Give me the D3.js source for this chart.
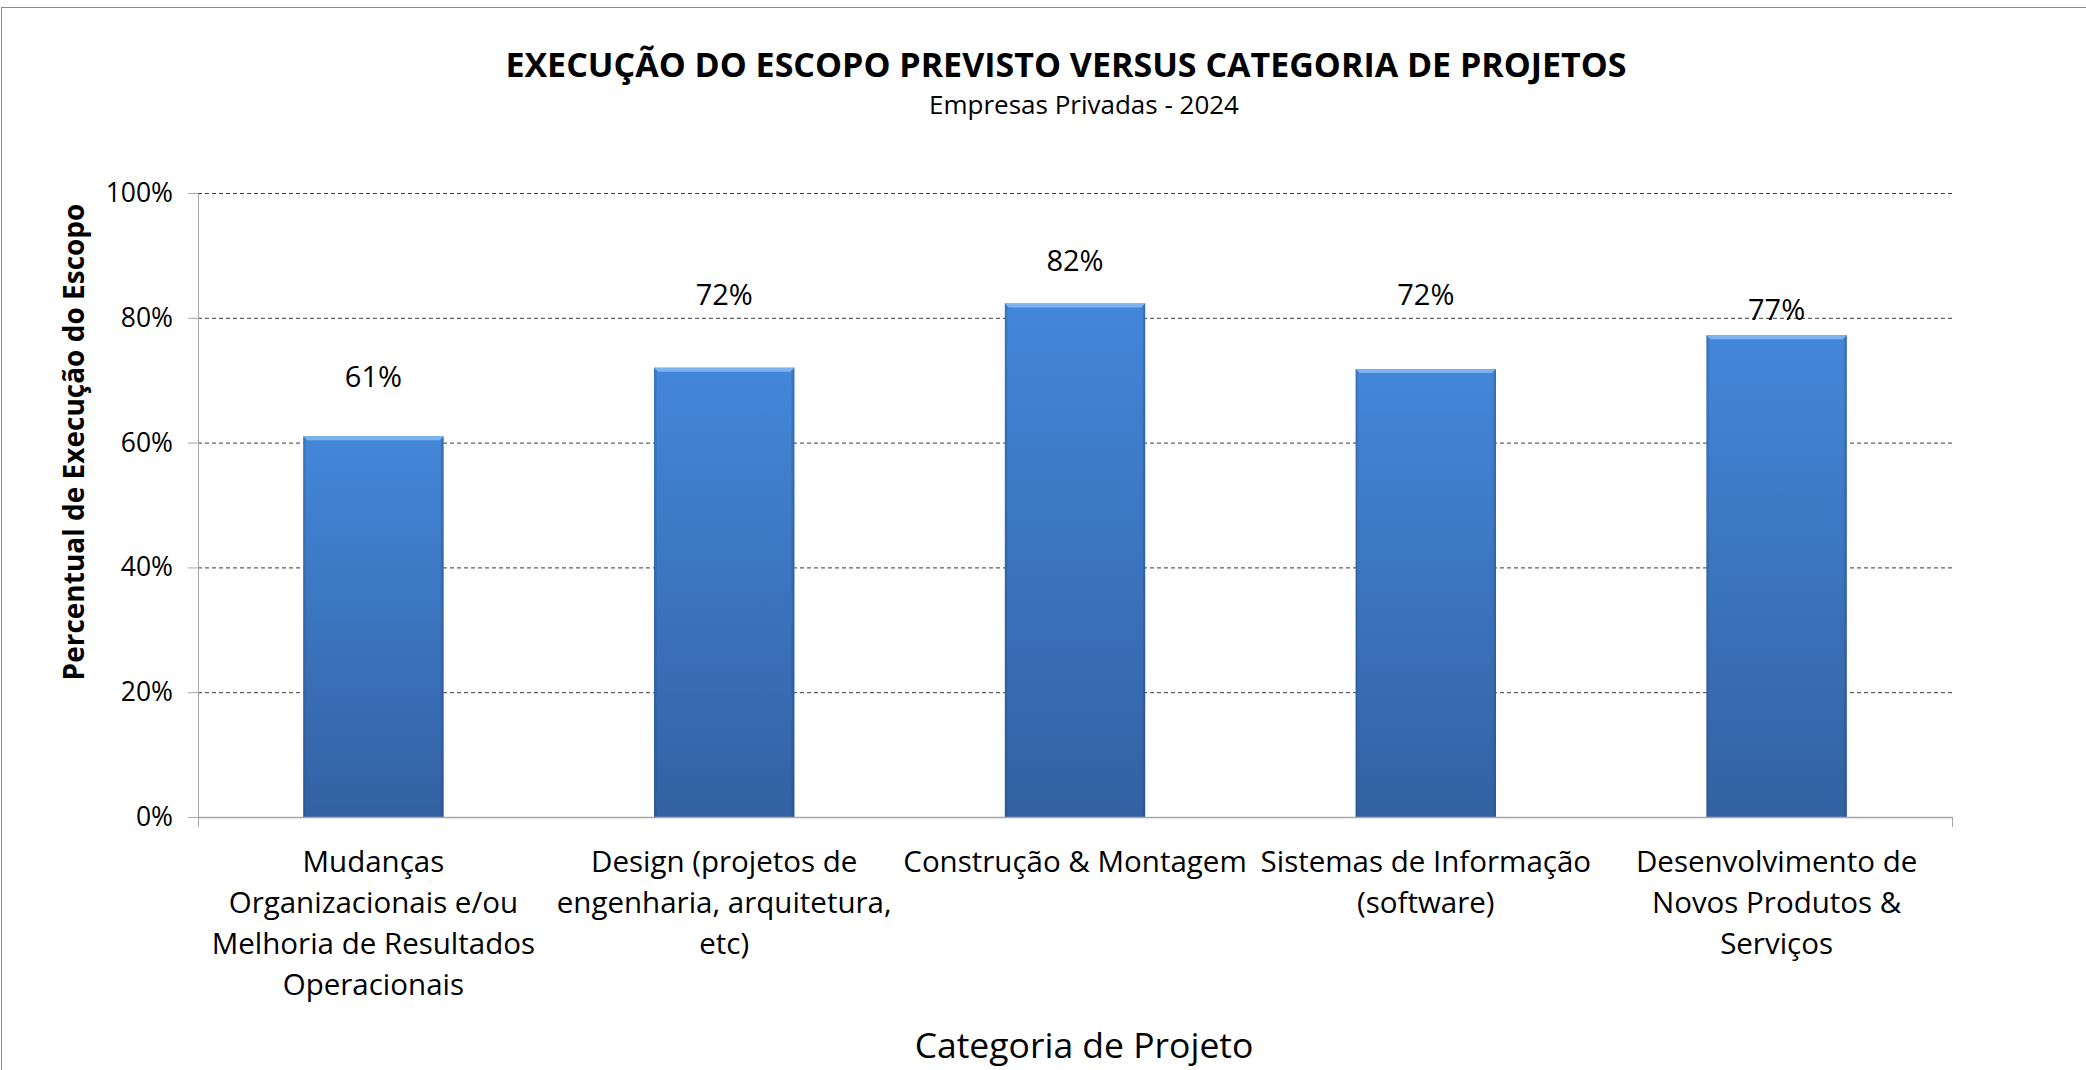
<!DOCTYPE html>
<html>
<head>
<meta charset="utf-8">
<script src="https://cdn.jsdelivr.net/npm/d3@7"></script>
<style>
  body { margin: 0; background: #fff; }
  text { font-family: "Open Sans", sans-serif; fill: #000; }
</style>
</head>
<body>
<svg id="chart" width="2086" height="1070"></svg>
<script>
// data
const categories = [
  ["Mudanças", "Organizacionais e/ou", "Melhoria de Resultados", "Operacionais"],
  ["Design (projetos de", "engenharia, arquitetura,", "etc)"],
  ["Construção & Montagem"],
  ["Sistemas de Informação", "(software)"],
  ["Desenvolvimento de", "Novos Produtos &", "Serviços"]
]
const values = [0.61, 0.72, 0.823, 0.718, 0.772]
const yTicks = [0, 0.2, 0.4, 0.6, 0.8, 1.0]

const title = "EXECUÇÃO DO ESCOPO PREVISTO VERSUS CATEGORIA DE PROJETOS"
const subtitle = "Empresas Privadas - 2024"
const yTitle = "Percentual de Execução do Escopo"
const xTitle = "Categoria de Projeto"

const W = 2086, H = 1070
const plot = { left: 198, right: 1952, top: 193, bottom: 817 }

let svg = d3.select("#chart")

// outer chart frame
svg.append("rect")
  .attr("x", 1.5).attr("y", 7.5)
  .attr("width", W + 10).attr("height", H + 10)
  .attr("fill", "#fff")
  .attr("stroke", "#8c8c8c")

let defs = svg.append("defs")
let vg = defs.append("linearGradient").attr("id", "barFill")
  .attr("x1", 0).attr("y1", 0).attr("x2", 0).attr("y2", 1)
vg.append("stop").attr("offset", 0).attr("stop-color", "#4387d9")
vg.append("stop").attr("offset", 1).attr("stop-color", "#3361a3")

let hg = defs.append("linearGradient").attr("id", "barEdge")
  .attr("x1", 0).attr("y1", 0).attr("x2", 1).attr("y2", 0)
hg.append("stop").attr("offset", 0).attr("stop-color", "#1c3d6e").attr("stop-opacity", 0.35)
hg.append("stop").attr("offset", 0.025).attr("stop-color", "#1c3d6e").attr("stop-opacity", 0)
hg.append("stop").attr("offset", 0.975).attr("stop-color", "#1c3d6e").attr("stop-opacity", 0)
hg.append("stop").attr("offset", 1).attr("stop-color", "#1c3d6e").attr("stop-opacity", 0.45)

let x = d3.scaleBand()
  .domain(d3.range(categories.length))
  .range([plot.left, plot.right])
  .paddingInner(0.6)
  .paddingOuter(0.3)

let y = d3.scaleLinear()
  .domain([0, 1])
  .range([plot.bottom, plot.top])

// dashed gridlines
svg.append("g")
  .attr("transform", `translate(${plot.left},0)`)
  .call(d3.axisLeft(y).tickValues(yTicks.filter(d => d > 0))
    .tickSize(-(plot.right - plot.left)).tickFormat(""))
  .call(g => g.select(".domain").remove())
  .selectAll("line")
    .attr("stroke", "#3a3a3a")
    .attr("stroke-dasharray", "4,3")

// y axis
svg.append("g")
  .attr("transform", `translate(${plot.left},0)`)
  .call(d3.axisLeft(y).tickValues(yTicks).tickFormat(d3.format(".0%"))
    .tickSize(10).tickPadding(15).tickSizeOuter(0))
  .call(g => g.select(".domain").attr("stroke", "#a6a6a6"))
  .call(g => g.selectAll("line").attr("stroke", "#a6a6a6"))
  .call(g => g.selectAll("text")
    .style("font-family", "'Open Sans', sans-serif")
    .style("font-size", "26.5px")
    .attr("fill", "#000"))

// bars
let bars = svg.append("g").selectAll("g").data(values).enter().append("g")

bars.append("rect")
  .attr("x", (d, i) => x(i))
  .attr("y", d => y(d))
  .attr("width", x.bandwidth())
  .attr("height", d => y(0) - y(d))
  .attr("fill", "url(#barFill)")

bars.append("rect")
  .attr("x", (d, i) => x(i))
  .attr("y", d => y(d))
  .attr("width", x.bandwidth())
  .attr("height", d => y(0) - y(d))
  .attr("fill", "url(#barEdge)")

// bevelled top edge
bars.append("path")
  .attr("d", (d, i) => {
    let x0 = x(i), x1 = x(i) + x.bandwidth(), t = y(d)
    return `M${x0},${t}L${x1},${t}L${x1 - 4},${t + 4}L${x0 + 4},${t + 4}Z`
  })
  .attr("fill", "#7cb3ee")

// x axis, ticks only at the two ends
let edges = d3.scaleLinear().domain([0, categories.length]).range([plot.left, plot.right])
svg.append("g")
  .attr("transform", `translate(0,${plot.bottom})`)
  .call(d3.axisBottom(edges).tickValues([0, categories.length])
    .tickSize(10).tickFormat("").tickSizeOuter(0))
  .call(g => g.select(".domain").attr("stroke", "#a6a6a6").attr("stroke-width", 1.5))
  .call(g => g.selectAll("line").attr("stroke", "#a6a6a6"))

// value labels; heights in axis units where the labels sit in the picture
const labelAt = [0.706, 0.837, 0.891, 0.837, 0.814]
svg.append("g").selectAll("text").data(values).enter().append("text")
  .attr("x", (d, i) => x(i) + x.bandwidth() / 2)
  .attr("y", (d, i) => y(labelAt[i]))
  .attr("dy", "0.36em")
  .attr("text-anchor", "middle")
  .style("font-size", "29px")
  .text(d3.format(".0%"))

// category labels
let cat = svg.append("g").selectAll("text").data(categories).enter().append("text")
  .attr("x", (d, i) => x(i) + x.bandwidth() / 2)
  .attr("y", 872)
  .attr("text-anchor", "middle")
  .style("font-size", "29.5px")
cat.selectAll("tspan").data(d => d).enter().append("tspan")
  .attr("x", function() { return d3.select(this.parentNode).attr("x") })
  .attr("dy", (d, i) => i === 0 ? 0 : 41)
  .text(d => d)

// titles
svg.append("text")
  .attr("x", 1066).attr("y", 77)
  .attr("text-anchor", "middle")
  .style("font-size", "34px").style("font-weight", "bold")
  .text(title)

svg.append("text")
  .attr("x", 1084).attr("y", 114)
  .attr("text-anchor", "middle")
  .style("font-size", "26px")
  .text(subtitle)

svg.append("text")
  .attr("transform", "translate(84,442) rotate(-90)")
  .attr("text-anchor", "middle")
  .style("font-size", "28px").style("font-weight", "bold")
  .text(yTitle)

svg.append("text")
  .attr("x", 1084).attr("y", 1058)
  .attr("text-anchor", "middle")
  .style("font-size", "35.5px")
  .text(xTitle)
</script>
</body>
</html>
